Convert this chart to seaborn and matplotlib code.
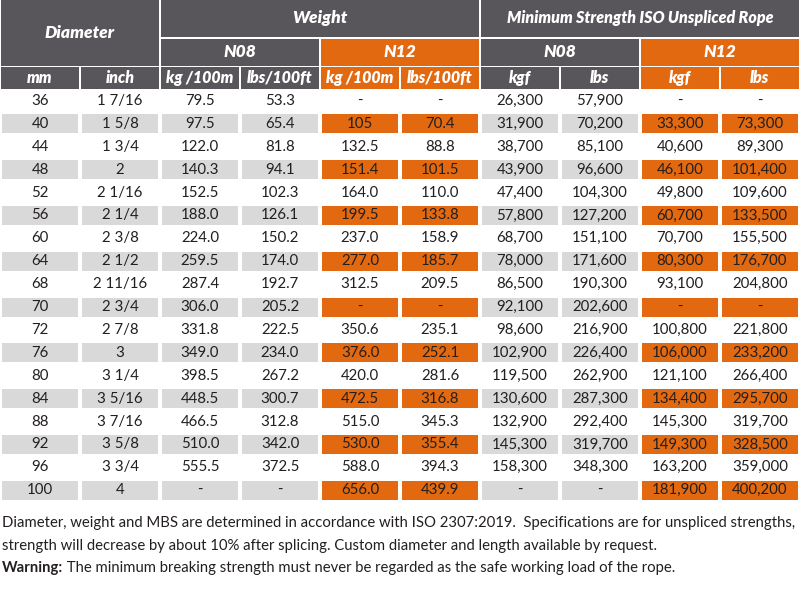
import numpy as np
import pandas as pd
import matplotlib
matplotlib.use("Agg")
import matplotlib.pyplot as plt
from matplotlib.colors import ListedColormap
from matplotlib.patches import Rectangle
import seaborn as sns

# table data (strings, as printed)
mm = ["36", "40", "44", "48", "52", "56", "60", "64", "68", "70", "72", "76", "80", "84", "88", "92", "96", "100"]
inch = ["1 7/16", "1 5/8", "1 3/4", "2", "2 1/16", "2 1/4", "2 3/8", "2 1/2", "2 11/16", "2 3/4",
        "2 7/8", "3", "3 1/4", "3 5/16", "3 7/16", "3 5/8", "3 3/4", "4"]
n08_kg = ["79.5", "97.5", "122.0", "140.3", "152.5", "188.0", "224.0", "259.5", "287.4", "306.0",
          "331.8", "349.0", "398.5", "448.5", "466.5", "510.0", "555.5", "-"]
n08_lbs = ["53.3", "65.4", "81.8", "94.1", "102.3", "126.1", "150.2", "174.0", "192.7", "205.2",
           "222.5", "234.0", "267.2", "300.7", "312.8", "342.0", "372.5", "-"]
n12_kg = ["-", "105", "132.5", "151.4", "164.0", "199.5", "237.0", "277.0", "312.5", "-",
          "350.6", "376.0", "420.0", "472.5", "515.0", "530.0", "588.0", "656.0"]
n12_lbs = ["-", "70.4", "88.8", "101.5", "110.0", "133.8", "158.9", "185.7", "209.5", "-",
           "235.1", "252.1", "281.6", "316.8", "345.3", "355.4", "394.3", "439.9"]
n08_kgf = ["26,300", "31,900", "38,700", "43,900", "47,400", "57,800", "68,700", "78,000", "86,500", "92,100",
           "98,600", "102,900", "119,500", "130,600", "132,900", "145,300", "158,300", "-"]
n08_mbs_lbs = ["57,900", "70,200", "85,100", "96,600", "104,300", "127,200", "151,100", "171,600", "190,300", "202,600",
               "216,900", "226,400", "262,900", "287,300", "292,400", "319,700", "348,300", "-"]
n12_kgf = ["-", "33,300", "40,600", "46,100", "49,800", "60,700", "70,700", "80,300", "93,100", "-",
           "100,800", "106,000", "121,100", "134,400", "145,300", "149,300", "163,200", "181,900"]
n12_mbs_lbs = ["-", "73,300", "89,300", "101,400", "109,600", "133,500", "155,500", "176,700", "204,800", "-",
               "221,800", "233,200", "266,400", "295,700", "319,700", "328,500", "359,000", "400,200"]

unit_labels = ["mm", "inch", "kg /100m", "lbs/100ft", "kg /100m", "lbs/100ft", "kgf", "lbs", "kgf", "lbs"]
n12_cols = [4, 5, 8, 9]

DARK = "#58565a"
ORANGE = "#e2690f"
GREY = "#d9d9da"
TXT = "#231f20"
FONT = ["Lato", "DejaVu Sans"]

table = pd.DataFrame({
    "mm": mm, "inch": inch, "n08_kg": n08_kg, "n08_lbs": n08_lbs,
    "n12_kg": n12_kg, "n12_lbs": n12_lbs, "n08_kgf": n08_kgf, "n08_mbs_lbs": n08_mbs_lbs,
    "n12_kgf": n12_kgf, "n12_mbs_lbs": n12_mbs_lbs,
})

# colour code per cell: 0 white, 1 grey, 2 orange (N12 on shaded rows)
codes = np.zeros(table.shape)
codes[1::2, :] = 1
for c in n12_cols:
    codes[1::2, c] = 2

fig = plt.figure(figsize=(8, 6.01), dpi=100)
ax = fig.add_axes([0, 0, 1, 1])

sns.heatmap(codes, annot=table.values, fmt="", cmap=ListedColormap(["white", GREY, ORANGE]),
            vmin=-0.5, vmax=2.5, cbar=False, linewidths=1.5, linecolor="white",
            xticklabels=False, yticklabels=False, ax=ax,
            annot_kws={"fontsize": 10.8, "color": TXT, "family": FONT})

# row units from pixel layout
R = 22.9
top = 89.5
def py(p):
    return (p - top) / R

ax.set_xlim(0, 10)
ax.set_ylim(py(601), py(0))
ax.axis("off")

hfont = dict(color="white", fontweight="heavy", fontstyle="italic", fontsize=11.5,
             family=FONT, ha="center", va="center")
g = 0.8 / 80  # half gap in column units

def hcell(x0, x1, p0, p1, color, label, **kw):
    ax.add_patch(Rectangle((x0 + g, py(p0)), x1 - x0 - 2 * g, py(p1) - py(p0),
                           facecolor=color, edgecolor="none", zorder=3))
    opts = dict(hfont)
    opts.update(kw)
    ax.text((x0 + x1) / 2, py((p0 + p1) / 2), label, zorder=4, **opts)

# top header bands
hcell(0, 2, 0, 65.5, DARK, "Diameter", fontsize=12.5)
hcell(2, 6, 0, 37, DARK, "Weight", fontsize=12.5)
hcell(6, 10, 0, 37, DARK, "Minimum Strength ISO Unspliced Rope", fontsize=11.5)
for i, (name, col) in enumerate([("N08", DARK), ("N12", ORANGE), ("N08", DARK), ("N12", ORANGE)]):
    hcell(2 + 2 * i, 4 + 2 * i, 38.5, 65.5, col, name, fontsize=12.5)
for i, lab in enumerate(unit_labels):
    col = ORANGE if i in n12_cols else DARK
    hcell(i, i + 1, 67, 88.5, col, lab, fontsize=11.5)

# footnotes
ffont = dict(fontsize=10.7, color=TXT, family=FONT, va="center")
fig.text(2 / 800, 1 - 523 / 601,
         "Diameter, weight and MBS are determined in accordance with ISO 2307:2019.  "
         "Specifications are for unspliced strengths,", **ffont)
fig.text(2 / 800, 1 - 546 / 601,
         "strength will decrease by about 10% after splicing. Custom diameter and length available by request.",
         **ffont)
w = fig.text(2 / 800, 1 - 568 / 601, "Warning:", fontweight="bold", **ffont)
ax.annotate(" The minimum breaking strength must never be regarded as the safe working load of the rope.",
            xy=(1, 0.5), xycoords=w, ha="left", **ffont)

plt.savefig("out.png", dpi=100)
